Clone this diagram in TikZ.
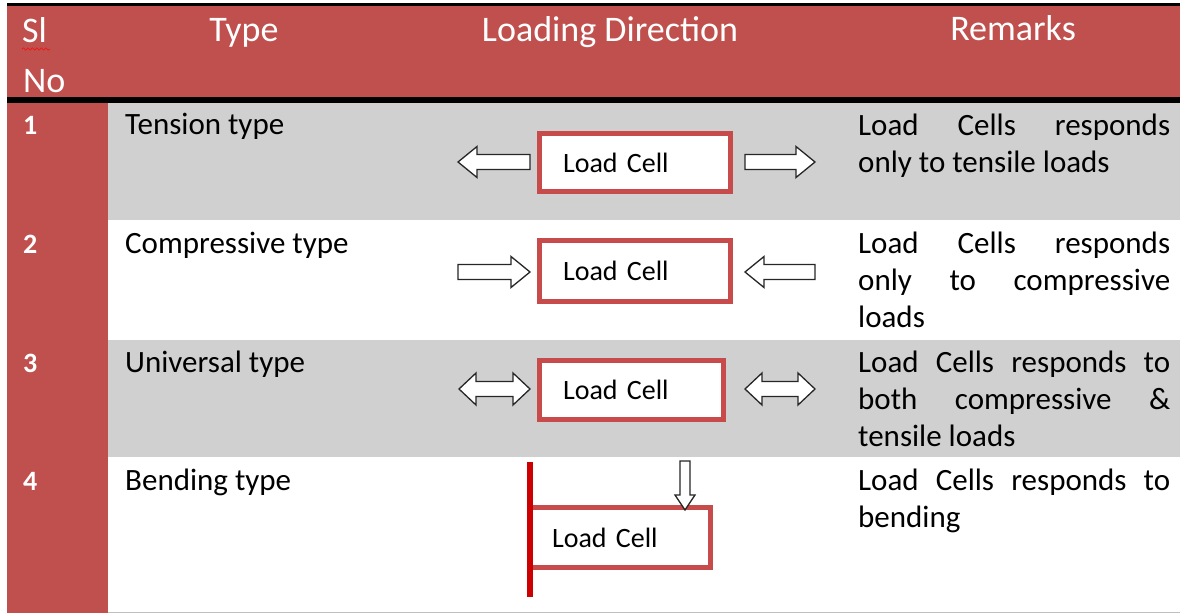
\documentclass[tikz,border=0pt]{standalone}
\usepackage{fontspec}
\setmainfont{Carlito}
\usetikzlibrary{decorations.pathmorphing}
\definecolor{headred}{HTML}{C0504D}
\definecolor{rowgray}{HTML}{D0D0D0}
\definecolor{cellred}{HTML}{C84B4B}
\definecolor{barred}{HTML}{CC0000}
\hbadness=10000
% block arrows: x1, x2, yc
\newcommand\blkR[3]{\draw[blockarrow] (#1,#3-7.5) -- (#2-19,#3-7.5) -- (#2-19,#3-15.5) -- (#2,#3) -- (#2-19,#3+15.5) -- (#2-19,#3+7.5) -- (#1,#3+7.5) -- cycle;}
\newcommand\blkL[3]{\draw[blockarrow] (#2,#3-7.5) -- (#1+19,#3-7.5) -- (#1+19,#3-15.5) -- (#1,#3) -- (#1+19,#3+15.5) -- (#1+19,#3+7.5) -- (#2,#3+7.5) -- cycle;}
\newcommand\blkLR[3]{\draw[blockarrow] (#1,#3) -- (#1+17,#3-16) -- (#1+17,#3-7.5) -- (#2-17,#3-7.5) -- (#2-17,#3-16) -- (#2,#3) -- (#2-17,#3+16) -- (#2-17,#3+7.5) -- (#1+17,#3+7.5) -- (#1+17,#3+16) -- cycle;}
% down arrow: xc, ytop, ytip
\newcommand\blkD[3]{\draw[blockarrow] (#1-5,#2) -- (#1+5,#2) -- (#1+5,#3-15) -- (#1+10,#3-15) -- (#1,#3) -- (#1-10,#3-15) -- (#1-5,#3-15) -- cycle;}
\begin{document}
\begin{tikzpicture}[x=1pt,y=-1pt,
  headtxt/.style={text=white, font=\fontsize{36}{43}\selectfont, inner sep=0, anchor=base},
  numtxt/.style={text=white, font=\fontsize{28}{30}\selectfont\bfseries, inner sep=0, anchor=base west},
  typetxt/.style={font=\fontsize{31}{37}\selectfont, inner sep=0, anchor=base west},
  remtxt/.style={font=\fontsize{31}{37}\selectfont, inner sep=0, anchor=base west, align=left},
  cellbox/.style={draw=cellred, line width=5pt, fill=white, font=\fontsize{28}{32}\selectfont, inner ysep=0, align=left},
  blockarrow/.style={draw=black!85, line width=1.3pt, fill=white, line join=miter},
]
\useasboundingbox (0,0) rectangle (1180,615);
\fill[white] (0,0) rectangle (1180,615);
% rows
\fill[rowgray] (108,103) rectangle (1180,220);
\fill[rowgray] (108,340) rectangle (1180,457);
\fill[headred] (7,103) rectangle (108,613);
\fill[headred] (7,6) rectangle (1180,97);
\fill[black] (7,3) rectangle (1180,6.5);
\fill[black] (7,97) rectangle (1180,103);
\draw[black!25, line width=1pt] (108,612.5) -- (1180,612.5);
% header
\node[headtxt, anchor=base west] (hsl) at (22,43) {Sl};
\node[headtxt, anchor=base west] (hno) at (23,93) {No};
\draw[red, decorate, decoration={snake, amplitude=1.3pt, segment length=4.5pt}] (22,49) -- (50,49);
\node[headtxt] (htype) at (244,42) {Type};
\node[headtxt] (hload) at (610,42) {Loading Direction};
\node[headtxt] (hrem) at (1013,41) {Remarks};
% numbers
\node[numtxt] (n1) at (23,135) {1};
\node[numtxt] (n2) at (23,253) {2};
\node[numtxt] (n3) at (23,372) {3};
\node[numtxt] (n4) at (23,490) {4};
% types
\node[typetxt] (t1) at (125,135) {Tension type};
\node[typetxt] (t2) at (125,253) {Compressive type};
\node[typetxt] (t3) at (125,372) {Universal type};
\node[typetxt] (t4) at (125,490) {Bending type};
% remarks (anchored at the baseline of the last line)
\node[remtxt] (r1) at (858,172) {\makebox[312pt][s]{Load Cells responds}\\only to tensile loads};
\node[remtxt] (r2) at (858,327) {\makebox[312pt][s]{Load Cells responds}\\\makebox[312pt][s]{only to compressive}\\loads};
\node[remtxt] (r3) at (858,446) {\makebox[312pt][s]{Load Cells responds to}\\\makebox[312pt][s]{both compressive \&}\\tensile loads};
\node[remtxt] (r4) at (858,527) {\makebox[312pt][s]{Load Cells responds to}\\bending};
% arrows
\blkL{458}{530}{162}
\blkR{745}{815}{162}
\blkR{458}{530}{272}
\blkL{745}{815}{272}
\blkLR{459}{530}{389}
\blkLR{745}{815}{389}
% load cells
\node[cellbox, minimum width=191pt, minimum height=58pt, text width=144pt, inner xsep=23.5pt] (c1) at (635,162.5) {Load Cell};
\node[cellbox, minimum width=191pt, minimum height=61pt, text width=144pt, inner xsep=23.5pt] (c2) at (635,271) {Load Cell};
\node[cellbox, minimum width=184pt, minimum height=59pt, text width=137pt, inner xsep=23.5pt] (c3) at (631.5,390) {Load Cell};
\node[cellbox, minimum width=180pt, minimum height=60pt, text width=137pt, inner xsep=21.5pt] (c4) at (620.5,537.5) {Load Cell};
\draw[barred, line width=6pt] (530,462) -- (530,597);
\blkD{685}{461}{510}
\end{tikzpicture}
\end{document}
